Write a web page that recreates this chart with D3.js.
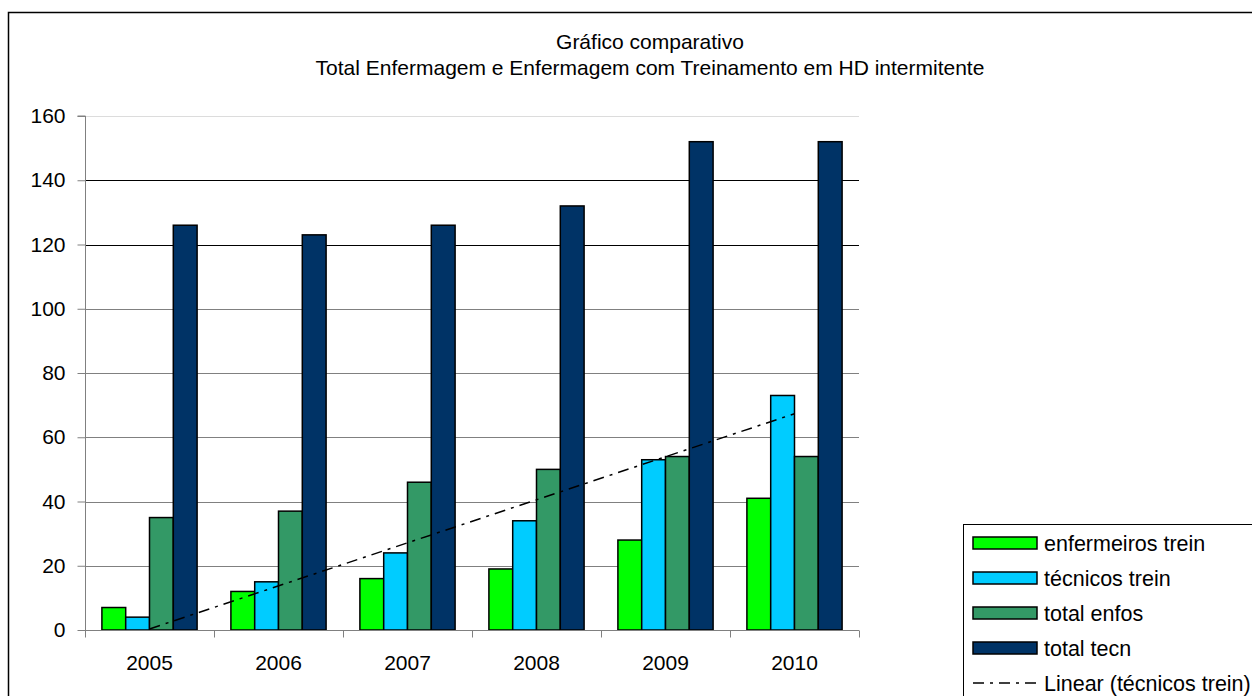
<!DOCTYPE html>
<html>
<head>
<meta charset="utf-8">
<script src="https://cdn.jsdelivr.net/npm/d3@7"></script>
<style>
  html, body { margin: 0; padding: 0; background: #fff; overflow: hidden; }
  svg { display: block; font-family: "Liberation Sans", Arial, sans-serif; }
</style>
</head>
<body>
<svg id="chart" width="1252" height="696"></svg>
<script>
// ---- data ----
const years = ["2005", "2006", "2007", "2008", "2009", "2010"];
const seriesNames = ["enfermeiros trein", "técnicos trein", "total enfos", "total tecn"];
const enfermeirosTrein = [7, 12, 16, 19, 28, 41];
const tecnicosTrein = [4, 15, 24, 34, 53, 73];
const totalEnfos = [35, 37, 46, 50, 54, 54];
const totalTecn = [126, 123, 126, 132, 152, 152];
const yTicks = [0, 20, 40, 60, 80, 100, 120, 140, 160];
const titleLines = ["Gráfico comparativo", "Total Enfermagem e Enfermagem com Treinamento em HD intermitente"];
const trendName = "Linear (técnicos trein)";

const seriesValues = [enfermeirosTrein, tecnicosTrein, totalEnfos, totalTecn];
const colors = ["#00FF00", "#00CCFF", "#339966", "#003366"];

const svg = d3.select("#chart");
const FONT = 21;
const DASH = "11,6,3,6";

// outer chart frame
svg.append("rect").attr("x", 8.5).attr("y", 12.5).attr("width", 1300).attr("height", 760)
  .attr("fill", "#fff").attr("stroke", "#000").attr("stroke-width", 1.5);

// title
svg.append("g").selectAll("text").data(titleLines).join("text")
  .attr("x", 650).attr("y", (d, i) => 49 + i * 26)
  .attr("text-anchor", "middle").attr("font-size", FONT).attr("fill", "#000")
  .text(d => d);

// scales
const x0 = d3.scaleBand().domain(years).range([85, 859]).paddingInner(0).paddingOuter(0);
const x1 = d3.scaleBand().domain(d3.range(seriesNames.length)).range([0, x0.bandwidth()])
  .paddingInner(0).paddingOuter(0.71);
const y = d3.scaleLinear().domain([0, 160]).range([630, 116]);

// gridlines
const gridColor = v => v === 160 ? "#dcdcdc" : (v >= 120 ? "#000" : "#808080");
svg.append("g").selectAll("line").data(yTicks.filter(v => v > 0)).join("line")
  .attr("x1", 85).attr("x2", 859)
  .attr("y1", d => Math.round(y(d)) + 0.5).attr("y2", d => Math.round(y(d)) + 0.5)
  .attr("stroke", d => gridColor(d)).attr("stroke-width", 1);

// bars
const groups = svg.append("g").selectAll("g").data(years).join("g")
  .attr("transform", d => `translate(${x0(d)},0)`);
groups.selectAll("rect").data((d, i) => seriesValues.map((s, k) => ({k, v: s[i]}))).join("rect")
  .attr("x", d => x1(d.k)).attr("width", x1.bandwidth())
  .attr("y", d => y(d.v)).attr("height", d => y(0) - y(d.v))
  .attr("fill", d => colors[d.k]).attr("stroke", "#000").attr("stroke-width", 1.5);

// y axis
const yAxis = d3.axisLeft(y).tickValues(yTicks).tickSize(8).tickPadding(12);
const gy = svg.append("g").attr("transform", "translate(85.5,0)").call(yAxis);
gy.select(".domain").attr("stroke", "#808080").attr("d", `M-8,${y(160)}H0V${y(0)}`);
gy.selectAll(".tick line").attr("stroke", "#808080");
gy.selectAll(".tick text").attr("font-size", FONT).attr("fill", "#000")
  .attr("font-family", "Liberation Sans, Arial, sans-serif");

// x axis
const xAxis = d3.axisBottom(x0).tickSize(0).tickPadding(0);
const gx = svg.append("g").attr("transform", "translate(0,630.5)").call(xAxis);
gx.select(".domain").attr("stroke", "#808080").attr("d", `M85,0H859`);
gx.selectAll(".tick text").attr("font-size", FONT).attr("fill", "#000")
  .attr("font-family", "Liberation Sans, Arial, sans-serif").attr("dy", 0).attr("y", 39);
const boundaries = years.map(d => x0(d)).concat([x0(years[years.length - 1]) + x0.bandwidth()]);
gx.append("g").selectAll("line").data(boundaries).join("line")
  .attr("x1", d => Math.round(d) + 0.5).attr("x2", d => Math.round(d) + 0.5)
  .attr("y1", 0).attr("y2", 7).attr("stroke", "#808080");

// linear trendline of técnicos trein (least-squares fit)
const xs = d3.range(1, years.length + 1);
const mx = d3.mean(xs), my = d3.mean(tecnicosTrein);
const slope = d3.sum(xs, (xv, i) => (xv - mx) * (tecnicosTrein[i] - my)) / d3.sum(xs, xv => (xv - mx) ** 2);
const intercept = my - slope * mx;
const trendPts = [1, years.length].map(xv => ({year: years[xv - 1], v: intercept + slope * xv}));
const line = d3.line().x(d => x0(d.year) + x0.bandwidth() / 2).y(d => y(d.v));
svg.append("path").datum(trendPts).attr("d", line)
  .attr("fill", "none").attr("stroke", "#000").attr("stroke-width", 1.5)
  .attr("stroke-dasharray", DASH);

// legend
const lg = svg.append("g");
lg.append("rect").attr("x", 963.5).attr("y", 524.5).attr("width", 400).attr("height", 300)
  .attr("fill", "#fff").attr("stroke", "#000").attr("stroke-width", 1);
const legendItems = seriesNames.map((n, k) => ({name: n, k})).concat([{name: trendName, k: -1}]);
const rows = lg.selectAll("g.item").data(legendItems).join("g").attr("class", "item")
  .attr("transform", (d, i) => `translate(973,${543 + i * 35})`);
rows.filter(d => d.k >= 0).append("rect")
  .attr("x", 0).attr("y", -6).attr("width", 64).attr("height", 12)
  .attr("fill", d => colors[d.k]).attr("stroke", "#000").attr("stroke-width", 1.5);
rows.filter(d => d.k < 0).append("line")
  .attr("x1", 0).attr("x2", 64).attr("y1", 0).attr("y2", 0)
  .attr("stroke", "#000").attr("stroke-width", 1.5).attr("stroke-dasharray", DASH);
rows.append("text").attr("x", 71).attr("y", 7.5).attr("font-size", FONT + 0.5).attr("fill", "#000")
  .text(d => d.name);
</script>
</body>
</html>
